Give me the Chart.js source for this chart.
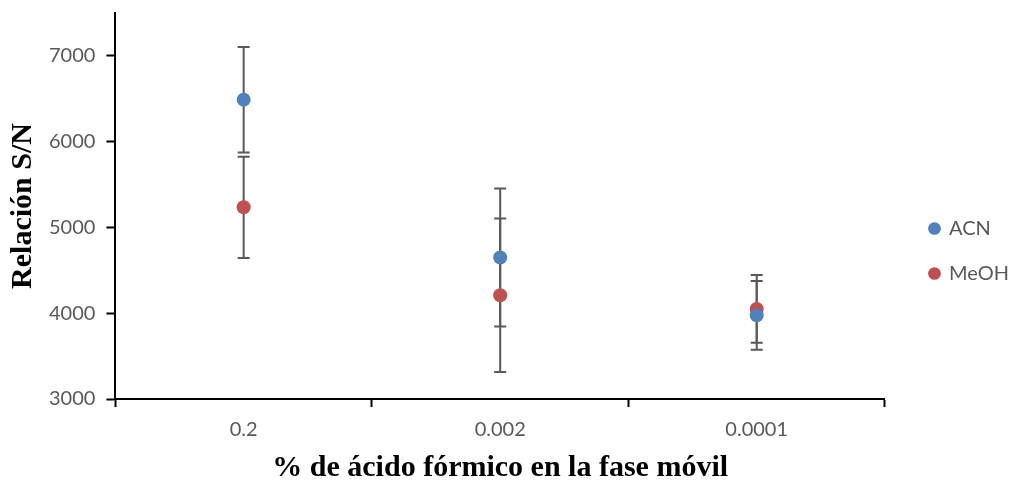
<!DOCTYPE html>
<html>
<head>
<meta charset="utf-8">
<script src="https://cdn.jsdelivr.net/npm/chart.js@4.4.1/dist/chart.umd.min.js"></script>
<style>
  html, body { margin: 0; padding: 0; background: #fff; }
  #wrap { width: 1011px; height: 481px; position: relative; }
</style>
</head>
<body>
<div id="wrap"><canvas id="c" width="1011" height="481"></canvas></div>
<script>
// Formic acid percentage in the mobile phase
const categories = ['0.2', '0.002', '0.0001'];

// Mean S/N ratio and its standard deviation for each organic modifier
const acnValues = [6490, 4650, 3975];
const acnErrors = [615, 805, 400];
const meohValues = [5235, 4210, 4050];
const meohErrors = [590, 895, 395];

// Value-axis ticks
const yTicks = [3000, 4000, 5000, 6000, 7000];
const yMin = 3000;
const yMax = 7500;

const BLUE = '#4F81BD';
const RED = '#C0504D';
const GREY = '#595959';

const toPoints = vals => vals.map((v, i) => ({ x: i + 1, y: v }));

// Vertical error bars with caps, drawn beneath the markers
const errorBars = {
  id: 'errorBars',
  beforeDatasetsDraw(chart) {
    const { ctx, scales: { x, y } } = chart;
    ctx.save();
    ctx.strokeStyle = GREY;
    ctx.lineWidth = 2;
    chart.data.datasets.forEach(ds => {
      ds.data.forEach((p, i) => {
        const e = ds.errors[i];
        const px = x.getPixelForValue(p.x);
        const top = y.getPixelForValue(p.y + e);
        const bot = y.getPixelForValue(p.y - e);
        ctx.beginPath();
        ctx.moveTo(px, top); ctx.lineTo(px, bot);
        ctx.moveTo(px - 6, top); ctx.lineTo(px + 6, top);
        ctx.moveTo(px - 6, bot); ctx.lineTo(px + 6, bot);
        ctx.stroke();
      });
    });
    ctx.restore();
  }
};

// Push the legend a little further from the plot area
const legendNudge = {
  id: 'legendNudge',
  afterLayout(chart) {
    const lg = chart.legend;
    if (!lg) return;
    lg.left += 20; lg.right += 20;
    lg.top += 4; lg.bottom += 4;
  }
};

new Chart(document.getElementById('c'), {
  type: 'scatter',
  data: {
    datasets: [
      { label: 'ACN', data: toPoints(acnValues), errors: acnErrors,
        backgroundColor: BLUE, borderColor: BLUE, pointRadius: 7, pointHoverRadius: 7, borderWidth: 0 },
      { label: 'MeOH', data: toPoints(meohValues), errors: meohErrors,
        backgroundColor: RED, borderColor: RED, pointRadius: 7, pointHoverRadius: 7, borderWidth: 0 }
    ]
  },
  options: {
    responsive: false,
    animation: false,
    layout: { padding: { left: 0, top: 13, bottom: 0, right: 12 } },
    plugins: {
      tooltip: { enabled: false },
      legend: {
        position: 'right',
        labels: {
          usePointStyle: true,
          pointStyle: 'circle',
          boxWidth: 9,
          boxHeight: 9,
          padding: 25,
          color: GREY,
          font: { family: 'Lato', size: 20 }
        }
      }
    },
    scales: {
      x: {
        type: 'linear',
        min: 0.5,
        max: categories.length + 0.5,
        afterBuildTicks(scale) {
          const t = [];
          for (let v = 0.5; v <= categories.length + 0.5; v += 0.5) t.push({ value: v });
          scale.ticks = t;
        },
        ticks: {
          autoSkip: false,
          maxRotation: 0,
          padding: 11,
          color: GREY,
          font: { family: 'Lato', size: 20 },
          callback: v => Number.isInteger(v) ? categories[v - 1] : ''
        },
        grid: {
          drawOnChartArea: false,
          drawTicks: true,
          tickLength: 8,
          tickWidth: 2,
          tickColor: c => (c.tick && Number.isInteger(c.tick.value)) ? 'rgba(0,0,0,0)' : '#000'
        },
        border: { color: '#000', width: 2 },
        title: {
          display: true,
          text: '% de ácido fórmico en la fase móvil',
          color: '#000',
          font: { family: 'Liberation Serif', size: 30, weight: 'bold', lineHeight: 1.0 },
          padding: { top: 0, bottom: -2 }
        }
      },
      y: {
        min: yMin,
        max: yMax,
        afterBuildTicks(scale) {
          scale.ticks = yTicks.map(v => ({ value: v }));
        },
        afterFit(scale) {
          scale.paddingTop = 0;
          scale.paddingBottom = 0;
        },
        ticks: {
          padding: 11,
          color: GREY,
          font: { family: 'Lato', size: 20 },
          callback: v => String(v)
        },
        grid: {
          drawOnChartArea: false,
          drawTicks: true,
          tickLength: 9,
          tickWidth: 2,
          tickColor: '#000'
        },
        border: { color: '#000', width: 2 },
        title: {
          display: true,
          text: 'Relación S/N',
          color: '#000',
          font: { family: 'Liberation Serif', size: 30, weight: 'bold', lineHeight: 1.0 },
          padding: { top: 8, bottom: 0 }
        }
      }
    }
  },
  plugins: [errorBars, legendNudge]
});
</script>
</body>
</html>
